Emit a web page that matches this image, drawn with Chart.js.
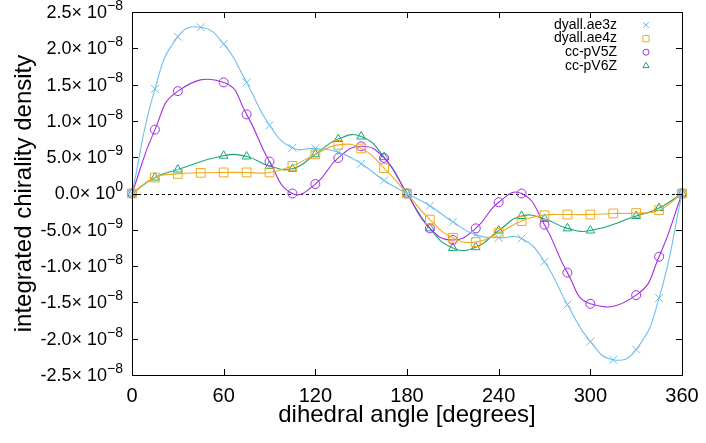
<!DOCTYPE html>
<html>
<head>
<meta charset="utf-8">
<script src="https://cdn.jsdelivr.net/npm/chart.js@4/dist/chart.umd.min.js"></script>
<style>
  html, body { margin: 0; padding: 0; background: #fff; }
  #wrap { width: 706px; height: 443px; }
</style>
</head>
<body>
<div id="wrap"><canvas id="mycanvas" width="706" height="443"></canvas></div>
<script>
// dihedral angle, degrees
var angles = [0, 15, 30, 45, 60, 75, 90, 105, 120, 135, 150, 165, 180,
              195, 210, 225, 240, 255, 270, 285, 300, 315, 330, 345, 360];

var ae3z = [0, 1.44e-8, 2.16e-8, 2.29e-8, 2.06e-8, 1.53e-8, 9.4e-9, 6.3e-9, 6.2e-9, 5.7e-9, 4.1e-9, 1.8e-9, 0,
            -1.7e-9, -3.9e-9, -5.7e-9, -6.1e-9, -6.2e-9, -9.4e-9, -1.53e-8, -2.04e-8, -2.29e-8, -2.15e-8, -1.44e-8, 0];
var ae4z = [0, 2.2e-9, 2.7e-9, 2.85e-9, 2.9e-9, 2.9e-9, 2.9e-9, 3.8e-9, 5.4e-9, 6.7e-9, 6.2e-9, 3.5e-9, 0,
            -3.6e-9, -6.1e-9, -6.7e-9, -5.4e-9, -3.8e-9, -3.0e-9, -2.9e-9, -2.9e-9, -2.75e-9, -2.7e-9, -2.3e-9, 0];
var pv5z = [0, 8.8e-9, 1.41e-8, null, 1.53e-8, 1.09e-8, 4.4e-9, 0, 1.3e-9, 4.9e-9, 6.5e-9, 4.9e-9, 0,
            -4.8e-9, -6.4e-9, -4.8e-9, -1.2e-9, 0, -4.3e-9, -1.09e-8, -1.52e-8, null, -1.40e-8, -8.7e-9, 0];
var pv6z = [0, 2.2e-9, 3.3e-9, null, 5.2e-9, 5.1e-9, 3.8e-9, 3.4e-9, 5.4e-9, 7.5e-9, 7.85e-9, 5.0e-9, 0,
            -4.8e-9, -7.5e-9, -7.4e-9, -5.1e-9, -3.1e-9, -3.5e-9, -4.8e-9, -5.1e-9, null, -3.1e-9, -2.0e-9, 0];

var names = ['dyall.ae3z', 'dyall.ae4z', 'cc-pV5Z', 'cc-pV6Z'];

// y tick labels: mantissa and exponent, gnuplot style
var yTickValues = [2.5e-8, 2.0e-8, 1.5e-8, 1.0e-8, 5.0e-9, 0, -5.0e-9, -1.0e-8, -1.5e-8, -2.0e-8, -2.5e-8];
var yTickMant = ['2.5', '2.0', '1.5', '1.0', '5.0', '0.0', '-5.0', '-1.0', '-1.5', '-2.0', '-2.5'];
var yTickExp = ['\u22128', '\u22128', '\u22128', '\u22128', '\u22129', '0', '\u22129', '\u22128', '\u22128', '\u22128', '\u22128'];

var FONT = '"Liberation Sans", Arial, Helvetica, sans-serif';

function pts(vals) {
	var out = [];
	for (var i in angles) {
		out.push({x: angles[i], y: vals[i]});
	}
	return out;
}

var markerSize = { crossRot: 5.6, rect: 6.2, circle: 4.5, triangle: 5 };
var legendSize = { crossRot: 4.2, rect: 4.4, circle: 3, triangle: 3.6 };

function ds(label, vals, color, style, tension) {
	return {
		label: label,
		data: pts(vals),
		borderColor: color,
		backgroundColor: 'rgba(0,0,0,0)',
		pointBorderColor: color,
		pointBackgroundColor: 'rgba(0,0,0,0)',
		pointStyle: style,
		pointRadius: markerSize[style],
		pointBorderWidth: 1,
		borderWidth: 1.1,
		tension: tension,
		spanGaps: true,
		clip: false
	};
}

var gnuplotLook = {
	id: 'gnuplotLook',
	beforeDatasetsDraw: function(chart) {
		var ctx = chart.ctx, a = chart.chartArea;
		var y0 = chart.scales.y.getPixelForValue(0);
		ctx.save();
		ctx.strokeStyle = '#000';
		ctx.lineWidth = 1;
		ctx.setLineDash([3, 3]);
		ctx.beginPath();
		ctx.moveTo(a.left, Math.round(y0) + 0.5);
		ctx.lineTo(a.right, Math.round(y0) + 0.5);
		ctx.stroke();
		ctx.restore();
	},
	afterDraw: function(chart) {
		var ctx = chart.ctx, a = chart.chartArea;
		var xs = chart.scales.x, ys = chart.scales.y;
		ctx.save();
		ctx.strokeStyle = '#000';
		ctx.lineWidth = 1;
		ctx.strokeRect(Math.round(a.left) + 0.5, Math.round(a.top) + 0.5,
			Math.round(a.right - a.left), Math.round(a.bottom - a.top));

		// inward ticks
		var tl = 6;
		ctx.beginPath();
		xs.ticks.forEach(function(t) {
			var px = Math.round(xs.getPixelForValue(t.value)) + 0.5;
			ctx.moveTo(px, a.bottom); ctx.lineTo(px, a.bottom - tl);
			ctx.moveTo(px, a.top); ctx.lineTo(px, a.top + tl);
		});
		yTickValues.forEach(function(v) {
			var py = Math.round(ys.getPixelForValue(v)) + 0.5;
			ctx.moveTo(a.left, py); ctx.lineTo(a.left + tl, py);
			ctx.moveTo(a.right, py); ctx.lineTo(a.right - tl, py);
		});
		ctx.stroke();

		// y tick labels with superscript exponent
		ctx.fillStyle = '#000';
		ctx.textBaseline = 'middle';
		ctx.textAlign = 'right';
		var right = a.left - 9;
		for (var i = 0; i < yTickValues.length; i++) {
			var py = ys.getPixelForValue(yTickValues[i]);
			ctx.font = '14px ' + FONT;
			var sw = ctx.measureText(yTickExp[i]).width;
			ctx.fillText(yTickExp[i], right, py - 6);
			ctx.font = '18px ' + FONT;
			ctx.fillText(yTickMant[i] + '\u00d7 10', right - sw, py + 1);
		}

		// legend, gnuplot style: text then symbol
		var lx = 617, mx = 646, ly = 25, step = 13.6;
		chart.data.datasets.forEach(function(d, k) {
			var y = ly + k * step;
			ctx.font = '14px ' + FONT;
			ctx.textAlign = 'right';
			ctx.fillStyle = '#000';
			ctx.fillText(d.label, lx, y);
			ctx.strokeStyle = d.borderColor;
			ctx.fillStyle = 'rgba(0,0,0,0)';
			ctx.lineWidth = 1;
			Chart.helpers.drawPoint(ctx, {pointStyle: d.pointStyle, radius: legendSize[d.pointStyle], rotation: 0, borderWidth: 1}, mx, y);
		});
		ctx.restore();
	}
};

var ctx = document.getElementById('mycanvas');
var chart = new Chart(ctx, {
	type: 'line',
	data: {
		datasets: [
			ds(names[0], ae3z, '#6cc0ee', 'crossRot', 0.5),
			ds(names[1], ae4z, '#f0aa20', 'rect', 0.5),
			ds(names[2], pv5z, '#a22ee0', 'circle', 0.5),
			ds(names[3], pv6z, '#1aa67c', 'triangle', 0.5)
		]
	},
	options: {
		responsive: false,
		animation: false,
		events: [],
		layout: { padding: { top: 12, right: 24, bottom: 0, left: 0 } },
		plugins: {
			legend: { display: false },
			tooltip: { enabled: false }
		},
		scales: {
			x: {
				type: 'linear',
				min: 0,
				max: 360,
				grid: { display: false },
				border: { display: false },
				ticks: {
					stepSize: 60,
					padding: 1,
					color: '#000',
					font: { family: FONT, size: 20 },
					maxRotation: 0
				},
				title: {
					display: true,
					text: 'dihedral angle [degrees]',
					color: '#000',
					font: { family: FONT, size: 24 },
					padding: { top: 0, bottom: 13 }
				},
				afterFit: function(scale) { scale.height = 68; }
			},
			y: {
				type: 'linear',
				min: -2.5e-8,
				max: 2.5e-8,
				grid: { display: false },
				border: { display: false },
				ticks: { display: false, stepSize: 5e-9 },
				title: {
					display: true,
					text: 'integrated chirality density',
					color: '#000',
					font: { family: FONT, size: 24 },
					padding: { top: 10, bottom: 0 }
				},
				afterFit: function(scale) { scale.width = 132; }
			}
		}
	},
	plugins: [gnuplotLook]
});
</script>
</body>
</html>
